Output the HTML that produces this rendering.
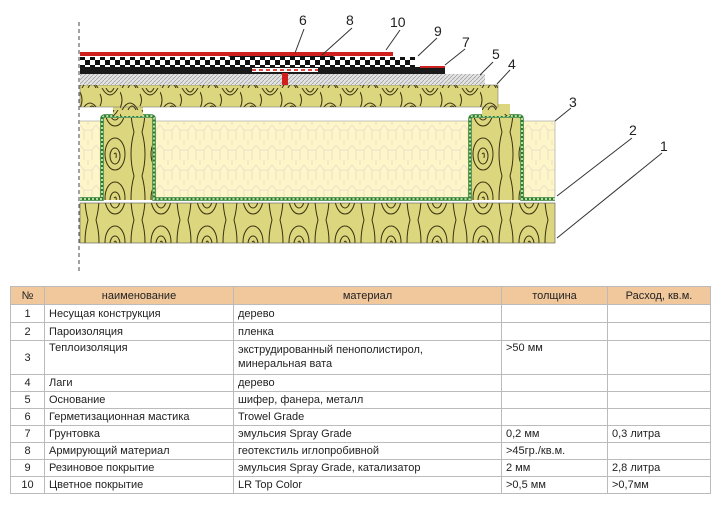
<!DOCTYPE html>
<html><head><meta charset="utf-8"><style>
body{margin:0;background:#fff;width:719px;height:505px;overflow:hidden;font-family:"Liberation Sans","DejaVu Sans",sans-serif}
svg{position:absolute;left:0;top:0}
table{position:absolute;left:10px;top:286px;border-collapse:collapse;font-size:11px;color:#222}
td{border:1px solid #bbb;padding:0 4px;height:16px;line-height:14px;vertical-align:middle}
tr.h td{background:#f0c89c;text-align:center;height:17px}
tr.t td{height:17px}
td.n{text-align:center;padding:0}
</style></head><body>
<svg width="719" height="280" viewBox="0 0 719 280">
<defs>
<pattern id="wood" width="46" height="44" patternUnits="userSpaceOnUse">
<rect width="46" height="44" fill="#dcd67e"/>
<g fill="none" stroke="#3a3210" stroke-width="1">
<ellipse cx="23" cy="22" rx="10" ry="16"/><ellipse cx="23" cy="24" rx="5" ry="8"/><path d="M22 22q3-3 2 4"/>
<path d="M4 0q6 22 0 44M42 0q-6 22 0 44"/>
</g></pattern>
<pattern id="wood2" width="40" height="22" patternUnits="userSpaceOnUse">
<rect width="40" height="22" fill="#dcd67e"/>
<g fill="none" stroke="#3a3210" stroke-width="1">
<path d="M2 22q8-14 16 0M8 22q4-8 8 0M22 0q8 14 16 0M26 0q4 8 8 0M0 4q4 8 0 16M20 6q3 6 0 12"/>
</g></pattern>
<pattern id="ins" width="16" height="20" patternUnits="userSpaceOnUse">
<rect width="16" height="20" fill="#fcf6c8"/>
<path d="M0 5l4 5v10M16 5l-4 5v10M4 10h8M8 0v5" fill="none" stroke="#ecd6c8" stroke-width="0.7"/>
</pattern>
<pattern id="chk" width="10" height="10" patternUnits="userSpaceOnUse">
<rect width="10" height="10" fill="#111"/><rect x="0" y="0" width="5" height="5" fill="#fff"/><rect x="5" y="5" width="5" height="5" fill="#fff"/>
</pattern>
<pattern id="hat" width="4" height="4" patternUnits="userSpaceOnUse">
<rect width="4" height="4" fill="#e4e4e4"/><path d="M0 4L4 0" stroke="#999" stroke-width="0.7"/>
</pattern>
</defs>
<line x1="79" y1="22" x2="79" y2="272" stroke="#444" stroke-dasharray="4,3"/>
<rect x="80" y="203" width="475" height="40" fill="url(#wood)" stroke="#555" stroke-width="0.6"/>
<rect x="80" y="121" width="475" height="76" fill="url(#ins)"/>
<line x1="80" y1="121" x2="555" y2="121" stroke="#888" stroke-width="0.5"/>
<line x1="555" y1="121" x2="555" y2="197" stroke="#888" stroke-width="0.5"/>
<rect x="104" y="118" width="48" height="82" fill="url(#wood)"/>
<rect x="472" y="118" width="48" height="82" fill="url(#wood)"/>
<path d="M80 199H102V119Q102 116 105 116H151Q154 116 154 119V199H470V119Q470 116 473 116H519Q522 116 522 119V199H555" fill="none" stroke="#2e7a2e" stroke-width="3.5"/>
<path d="M80 199H102V119Q102 116 105 116H151Q154 116 154 119V199H470V119Q470 116 473 116H519Q522 116 522 119V199H555" fill="none" stroke="#b6e0a0" stroke-width="2" stroke-dasharray="2,2"/>
<rect x="113" y="107" width="30" height="9" fill="url(#wood2)"/>
<rect x="482" y="107" width="28" height="9" fill="url(#wood2)"/>
<rect x="497" y="104" width="13" height="10" fill="#dcd67e"/>
<rect x="80" y="85" width="418" height="22" fill="url(#wood2)" stroke="#666" stroke-width="0.5"/>
<rect x="80" y="74" width="405" height="11" fill="url(#hat)"/>
<rect x="80" y="67" width="365" height="7" fill="#1a1a1a"/>
<rect x="420" y="66" width="25" height="2" fill="#c22"/>
<rect x="80" y="57" width="335" height="10" fill="url(#chk)"/>
<path d="M228 57Q240 50 255 54H315Q325 52 335 57Z" fill="#111"/>
<rect x="252" y="68" width="66" height="4" fill="#fff"/>
<path d="M252 70h66" stroke="#d44" stroke-dasharray="4,3" stroke-width="2"/>
<rect x="80" y="52" width="313" height="4" fill="#d0201e"/>
<rect x="282" y="73" width="6" height="12" fill="#d0201e"/>
<g stroke="#333" stroke-width="1" fill="none">
<path d="M304 29L295 53M352 28L322 55M400 30L386 50M437 38L418 56M465 49L445 65M493 62L480 75M510 70L497 84M571 108L555 121M632 138L557 196M662 153L557 238"/>
</g>
<g font-size="14" fill="#222" font-family="Liberation Sans,sans-serif">
<text x="299" y="25">6</text><text x="346" y="25">8</text><text x="390" y="27">10</text><text x="434" y="36">9</text>
<text x="462" y="47">7</text><text x="492" y="59">5</text><text x="508" y="69">4</text><text x="569" y="107">3</text>
<text x="629" y="135">2</text><text x="660" y="151">1</text>
</g>
</svg>
<table>
<colgroup><col style="width:34px"><col style="width:189px"><col style="width:268px"><col style="width:106px"><col style="width:103px"></colgroup>
<tr class="h"><td>№</td><td>наименование</td><td>материал</td><td>толщина</td><td>Расход, кв.м.</td></tr>
<tr class="t"><td class="n">1</td><td>Несущая конструкция</td><td>дерево</td><td></td><td></td></tr>
<tr class="t"><td class="n">2</td><td>Пароизоляция</td><td>пленка</td><td></td><td></td></tr>
<tr><td class="n" style="height:33px">3</td><td style="vertical-align:top">Теплоизоляция</td><td style="vertical-align:top;padding-top:2px">экструдированный пенополистирол,<br>минеральная вата</td><td style="vertical-align:top">&gt;50 мм</td><td></td></tr>
<tr><td class="n">4</td><td>Лаги</td><td>дерево</td><td></td><td></td></tr>
<tr><td class="n">5</td><td>Основание</td><td>шифер, фанера, металл</td><td></td><td></td></tr>
<tr><td class="n">6</td><td>Герметизационная мастика</td><td>Trowel Grade</td><td></td><td></td></tr>
<tr><td class="n">7</td><td>Грунтовка</td><td>эмульсия Spray Grade</td><td>0,2 мм</td><td>0,3 литра</td></tr>
<tr><td class="n">8</td><td>Армирующий материал</td><td>геотекстиль иглопробивной</td><td>&gt;45гр./кв.м.</td><td></td></tr>
<tr><td class="n">9</td><td>Резиновое покрытие</td><td>эмульсия Spray Grade, катализатор</td><td>2 мм</td><td>2,8 литра</td></tr>
<tr><td class="n">10</td><td>Цветное покрытие</td><td>LR Top Color</td><td>&gt;0,5 мм</td><td>&gt;0,7мм</td></tr>
</table>
</body></html>
